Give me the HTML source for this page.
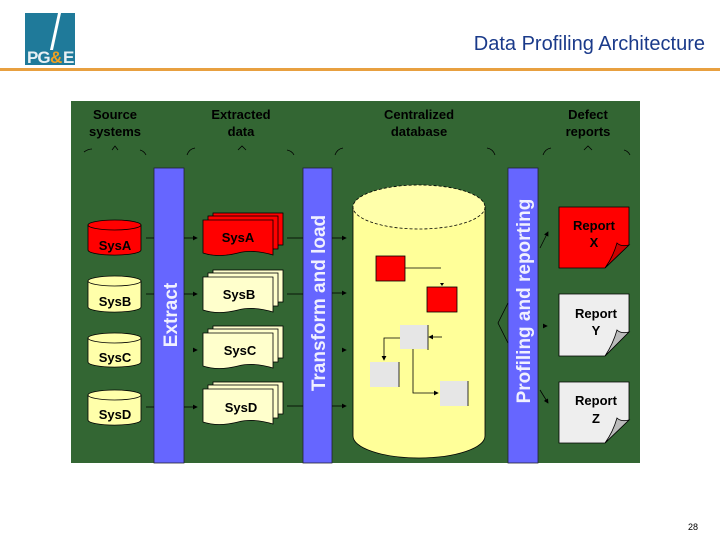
<!DOCTYPE html>
<html><head><style>
body{margin:0;background:#fff;}
svg text{font-family:"Liberation Sans",sans-serif;}
</style></head><body>
<svg width="720" height="540" viewBox="0 0 720 540" xmlns="http://www.w3.org/2000/svg">
<defs>
<marker id="ar" markerWidth="6" markerHeight="6" refX="5" refY="3" orient="auto"><path d="M0,0 L6,3 L0,6z" fill="#000"/></marker>
</defs>
<!-- logo -->
<rect x="25" y="13" width="50" height="52" fill="#1f7a9a"/>
<path d="M58,13 L50,50 L53,50 L61,13z" fill="#fff"/>
<text x="27" y="63" font-size="17" font-weight="bold" fill="#e8f0f4" letter-spacing="-1">PG</text>
<text x="50" y="63" font-size="17" font-weight="bold" fill="#f0a020">&amp;</text>
<text x="63" y="63" font-size="17" font-weight="bold" fill="#e8f0f4">E</text>
<text x="705" y="50" font-size="20" fill="#1a3a8a" text-anchor="end">Data Profiling Architecture</text>
<rect x="0" y="68" width="720" height="3" fill="#e8a040"/>
<!-- panel -->
<rect x="71" y="101" width="569" height="362" fill="#336633"/>
<g font-size="13" font-weight="bold" fill="#000" text-anchor="middle">
<text x="115" y="119">Source</text><text x="115" y="136">systems</text>
<text x="241" y="119">Extracted</text><text x="241" y="136">data</text>
<text x="419" y="119">Centralized</text><text x="419" y="136">database</text>
<text x="588" y="119">Defect</text><text x="588" y="136">reports</text>
</g>
<g stroke="#000" fill="none" stroke-width="0.8">
<path d="M84,152 q4,-3 8,-3 M112,150 l3,-4 l3,4 M140,150 q4,1 6,5"/>
<path d="M187,155 q2,-6 8,-7 M238,150 l4,-4 l4,4 M287,150 q5,1 7,5"/>
<path d="M335,155 q2,-6 8,-7 M487,148 q6,1 8,7"/>
<path d="M543,155 q2,-6 8,-7 M584,150 l4,-4 l4,4 M624,150 q4,1 6,5"/>
</g>
<!-- bars -->
<g stroke="#223" stroke-width="0.8">
<rect x="154" y="168" width="30" height="295" fill="#6666ff"/>
<rect x="303" y="168" width="29" height="295" fill="#6666ff"/>
<rect x="508" y="168" width="30" height="295" fill="#6666ff"/>
</g>
<g font-size="19" font-weight="bold" fill="#f0f0ff" text-anchor="middle">
<text transform="translate(177,315) rotate(-90)">Extract</text>
<text transform="translate(325,303) rotate(-90)">Transform and load</text>
<text transform="translate(530,301) rotate(-90)">Profiling and reporting</text>
</g>
<!-- source cylinders -->
<g stroke="#000" stroke-width="0.8" font-size="13" font-weight="bold" text-anchor="middle">
<g><path d="M88,225 v25 a26,5 0 0 0 53,0 v-25z" fill="#ff0000"/><ellipse cx="114.5" cy="225" rx="26.5" ry="5" fill="#ff0000"/><text x="115" y="250" stroke="none" fill="#000">SysA</text></g>
<g><path d="M88,281 v26 a26,5 0 0 0 53,0 v-26z" fill="#ffffaa"/><ellipse cx="114.5" cy="281" rx="26.5" ry="5" fill="#ffffaa"/><text x="115" y="306" stroke="none" fill="#000">SysB</text></g>
<g><path d="M88,338 v24 a26,5 0 0 0 53,0 v-24z" fill="#ffffaa"/><ellipse cx="114.5" cy="338" rx="26.5" ry="5" fill="#ffffaa"/><text x="115" y="362" stroke="none" fill="#000">SysC</text></g>
<g><path d="M88,395 v25 a26,5 0 0 0 53,0 v-25z" fill="#ffffaa"/><ellipse cx="114.5" cy="395" rx="26.5" ry="5" fill="#ffffaa"/><text x="115" y="419" stroke="none" fill="#000">SysD</text></g>
</g>
<!-- docs -->
<g stroke="#000" stroke-width="0.8" font-size="13" font-weight="bold" text-anchor="middle">
<g fill="#ff0000"><rect x="213" y="213" width="70" height="32"/><rect x="208" y="216" width="70" height="33"/><path d="M203,220 h70 v35 q-20,-6 -35,-2 q-20,5 -35,0z"/><text x="238" y="242" stroke="none" fill="#000">SysA</text></g>
<g fill="#ffffcc"><rect x="213" y="270" width="70" height="32"/><rect x="208" y="273" width="70" height="33"/><path d="M203,277 h70 v35 q-20,-6 -35,-2 q-20,5 -35,0z"/><text x="239" y="299" stroke="none" fill="#000">SysB</text></g>
<g fill="#ffffcc"><rect x="213" y="326" width="70" height="32"/><rect x="208" y="329" width="70" height="33"/><path d="M203,333 h70 v35 q-20,-6 -35,-2 q-20,5 -35,0z"/><text x="240" y="355" stroke="none" fill="#000">SysC</text></g>
<g fill="#ffffcc"><rect x="213" y="382" width="70" height="32"/><rect x="208" y="385" width="70" height="33"/><path d="M203,389 h70 v35 q-20,-6 -35,-2 q-20,5 -35,0z"/><text x="241" y="412" stroke="none" fill="#000">SysD</text></g>
</g>
<!-- arrows -->
<g stroke="#000" stroke-width="0.8" marker-end="url(#ar)">
<line x1="146" y1="238" x2="154" y2="238" marker-end="none"/><line x1="184" y1="238" x2="197" y2="238"/>
<line x1="146" y1="294" x2="154" y2="294" marker-end="none"/><line x1="184" y1="294" x2="197" y2="294"/>
<line x1="193" y1="350" x2="197" y2="350"/>
<line x1="146" y1="407" x2="154" y2="407" marker-end="none"/><line x1="184" y1="407" x2="197" y2="407"/>
<line x1="287" y1="238" x2="303" y2="238" marker-end="none"/><line x1="332" y1="238" x2="346" y2="238"/>
<line x1="287" y1="294" x2="303" y2="294" marker-end="none"/><line x1="332" y1="293" x2="346" y2="293"/>
<line x1="342" y1="350" x2="346" y2="350"/>
<line x1="287" y1="406" x2="303" y2="406" marker-end="none"/><line x1="332" y1="406" x2="346" y2="406"/>
<line x1="540" y1="248" x2="548" y2="232"/>
<line x1="543" y1="326" x2="547" y2="326"/>
<line x1="540" y1="390" x2="548" y2="403"/>
</g>
<path d="M508,303 l-10,20 l10,20" stroke="#000" stroke-width="0.8" fill="none"/>
<!-- central cylinder -->
<path d="M353,207 V436 A66,22 0 0 0 485,436 V207z" fill="#ffff99" stroke="#000" stroke-width="0.8"/>
<ellipse cx="419" cy="207" rx="66" ry="22" fill="#ffffaa" stroke="#000" stroke-width="0.8" stroke-dasharray="3,2"/>
<rect x="376" y="256" width="29" height="25" fill="#ff0000" stroke="#000" stroke-width="0.8"/>
<line x1="405" y1="268" x2="441" y2="268" stroke="#000" stroke-width="0.8"/>
<rect x="427" y="287" width="30" height="25" fill="#ff0000" stroke="#000" stroke-width="0.8"/>
<path d="M440,283 h4 l-2,3z" fill="#000"/>
<rect x="400" y="325" width="28" height="24" fill="#e6e6e6"/>
<line x1="428" y1="325" x2="428" y2="350" stroke="#000" stroke-width="0.8"/>
<line x1="442" y1="337" x2="429" y2="337" stroke="#000" stroke-width="0.8" marker-end="url(#ar)"/>
<path d="M400,338 H384 V360" stroke="#000" stroke-width="0.8" fill="none" marker-end="url(#ar)"/>
<rect x="370" y="362" width="29" height="25" fill="#e6e6e6"/>
<line x1="399" y1="362" x2="399" y2="387" stroke="#000" stroke-width="0.8"/>
<path d="M413,349 V393 H438" stroke="#000" stroke-width="0.8" fill="none" marker-end="url(#ar)"/>
<rect x="440" y="381" width="28" height="25" fill="#e6e6e6"/>
<line x1="468" y1="381" x2="468" y2="406" stroke="#000" stroke-width="0.8"/>
<!-- reports -->
<g stroke="#000" stroke-width="0.8" font-size="13" font-weight="bold" text-anchor="middle">
<path d="M559,207 H629 V245 L605,268 H559z" fill="#ff0000"/><path d="M629,245 q-8,2 -12,-2 q-4,14 -12,25z" fill="#cc0000"/>
<text x="594" y="230" stroke="none" fill="#000">Report</text><text x="594" y="247" stroke="none" fill="#000">X</text>
<path d="M559,294 H629 V332 L605,356 H559z" fill="#eeeeee"/><path d="M629,332 q-8,2 -12,-2 q-4,14 -12,26z" fill="#bbbbbb"/>
<text x="596" y="318" stroke="none" fill="#000">Report</text><text x="596" y="335" stroke="none" fill="#000">Y</text>
<path d="M559,382 H629 V420 L605,443 H559z" fill="#eeeeee"/><path d="M629,420 q-8,2 -12,-2 q-4,14 -12,25z" fill="#bbbbbb"/>
<text x="596" y="405" stroke="none" fill="#000">Report</text><text x="596" y="423" stroke="none" fill="#000">Z</text>
</g>
<text x="698" y="530" font-size="9" fill="#000" text-anchor="end">28</text>
</svg>
</body></html>
